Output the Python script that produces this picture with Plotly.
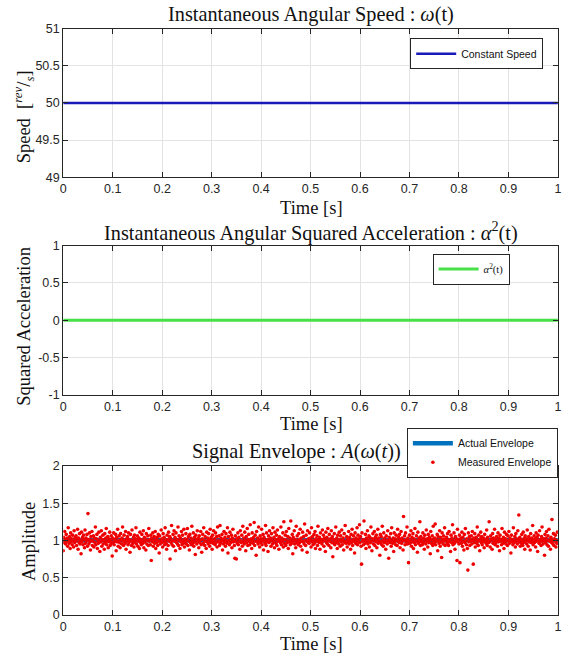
import numpy as np
import plotly.graph_objects as go

# ---------------- data ----------------
time_line = [0.0, 1.0]
speed_const = [50.0, 50.0]
accel_sq = [0.0, 0.0]
envelope_actual = [1.0, 1.0]

# measured envelope, amplitude x100, read/
measured_pct = [
    86,104,97,112,101,95,108,99,103,92,117,100,96,105,89,110,98,102,94,107,100,91,113,97,104,
    99,106,93,101,115,88,103,97,109,95,100,82,111,98,104,94,107,101,90,114,96,103,99,108,92,
    136,101,95,110,98,87,105,100,112,93,99,106,91,103,97,118,94,102,108,89,100,96,111,99,85,
    104,98,113,92,101,107,95,100,88,109,97,103,116,94,99,105,90,102,98,111,93,100,106,96,79,
    103,97,110,94,101,99,108,86,104,98,115,92,100,106,97,90,109,101,95,103,118,99,93,107,100,
    96,112,88,102,99,105,94,110,97,101,84,108,99,93,114,100,96,104,91,107,98,102,117,95,100,
    106,92,99,103,89,111,97,101,94,108,100,96,113,90,104,98,102,87,109,95,100,106,93,116,99,
    101,94,107,73,103,98,110,92,100,105,96,112,89,101,97,104,93,108,99,83,106,95,100,114,97,
    102,91,109,98,104,94,117,100,96,88,107,101,93,111,99,105,75,103,97,120,94,100,108,92,113,
    99,104,86,110,97,101,95,118,93,106,100,89,103,98,112,94,107,100,96,115,91,102,98,109,95,
    101,116,93,105,99,87,108,97,103,94,119,100,96,110,92,104,98,81,107,101,95,113,99,103,90,
    106,97,100,112,94,84,102,108,96,117,100,93,105,99,89,111,98,103,95,109,101,92,115,97,104,
    100,88,107,96,113,99,102,94,110,97,105,91,118,100,98,106,93,120,96,103,99,108,87,101,95,
    112,98,104,92,109,100,96,117,83,105,99,94,111,101,97,107,90,103,115,98,100,93,76,106,99,
    75,102,96,110,94,104,99,88,113,100,97,107,92,119,98,103,95,111,100,86,105,97,116,93,101,
    108,99,94,121,97,102,89,110,100,96,104,124,93,107,99,80,112,98,103,95,118,100,91,106,97,
    102,115,94,99,108,87,104,100,96,120,93,110,98,101,85,106,97,113,99,103,92,109,100,95,117,
    98,104,90,111,101,96,107,93,114,99,102,88,105,100,97,118,94,103,99,110,91,125,96,101,107,
    93,112,100,97,105,89,116,98,103,94,126,100,96,108,82,104,99,113,95,101,90,119,97,106,100,
    94,109,101,97,115,92,103,99,87,111,98,105,95,122,100,93,107,99,84,113,97,102,96,110,100,
    103,91,117,98,105,94,100,108,96,112,89,102,99,106,93,119,100,97,104,88,110,98,101,95,114,
    99,107,92,103,100,85,111,97,104,95,116,100,93,108,99,102,90,113,97,105,78,101,96,109,94,
    100,118,97,103,89,107,99,95,111,101,92,106,98,114,94,100,103,87,109,97,120,99,96,105,91,
    102,98,112,95,104,100,88,108,97,115,93,101,106,99,83,110,96,103,100,117,94,107,98,102,121,
    97,105,92,68,110,99,101,94,126,100,96,108,89,103,98,113,95,100,106,91,104,97,118,99,86,
    102,109,95,100,112,93,104,98,107,90,101,115,96,103,99,80,108,97,105,94,119,100,92,110,97,
    103,98,88,106,100,95,113,99,76,104,101,97,109,92,117,100,96,103,85,110,98,102,94,107,100,
    93,115,99,104,97,108,90,101,112,96,103,99,87,132,100,106,94,110,98,101,118,95,103,70,99,
    107,96,100,113,92,104,98,109,89,102,97,116,94,100,106,99,84,111,96,103,100,125,93,105,98,
    101,94,110,97,103,88,107,100,95,114,99,102,91,108,97,104,100,82,112,96,101,106,93,119,99,
    97,103,122,94,101,99,108,86,105,100,96,113,92,104,98,77,110,101,95,106,99,117,93,102,100,
    104,96,109,100,93,112,98,101,85,107,97,103,121,94,100,110,96,88,105,99,102,73,115,98,101,
    95,107,70,100,103,96,111,92,104,99,87,108,97,116,100,94,102,89,60,110,98,105,93,101,99,
    106,95,112,100,68,103,97,109,91,101,104,96,118,99,93,107,100,86,102,111,97,105,94,100,98,
    103,90,108,99,101,96,114,93,104,100,97,125,98,91,106,100,102,88,109,96,103,99,115,94,101,
    97,105,100,92,110,98,103,86,107,99,101,94,116,100,96,104,89,111,98,102,95,108,100,93,106,
    99,112,96,103,100,83,107,98,101,94,117,100,97,105,91,109,99,102,95,113,100,134,98,104,92,
    101,96,108,100,93,111,97,103,88,106,99,102,95,114,100,92,105,98,101,87,109,97,103,99,120,
    94,100,106,97,102,91,110,99,104,85,107,100,96,113,98,101,93,105,118,99,95,102,100,80,108,
    97,103,112,94,100,106,92,115,99,101,88,104,97,128,100,95,109,93,102,99,107,91,100,96,111,
]
measured = [v / 100 for v in measured_pct]
t_meas = np.linspace(0, 1, len(measured), endpoint=False)

x_ticks = [0, 0.1, 0.2, 0.3, 0.4, 0.5, 0.6, 0.7, 0.8, 0.9, 1]
y1_ticks = [49, 49.5, 50, 50.5, 51]
y2_ticks = [-1, -0.5, 0, 0.5, 1]
y3_ticks = [0, 0.5, 1, 1.5, 2]

# ---------------- figure ----------------
W, H = 563, 655
SERIF = "Liberation Serif, Times New Roman, serif"
SANS = "Liberation Sans, Arial, sans-serif"
AX = "#262626"
GRID = "#e3e3e3"

x_dom = [61 / W, 0.998]
def ydom(top, bot):
    return [1 - bot / H, 1 - top / H]

fig = go.Figure()

fig.add_trace(go.Scatter(x=time_line, y=speed_const, mode="lines",
                         line=dict(color="#1a1ab8", width=2.5), showlegend=True,
                         name="Constant Speed", xaxis="x", yaxis="y", legend="legend"))
fig.add_trace(go.Scatter(x=time_line, y=accel_sq, mode="lines",
                         line=dict(color="#48e048", width=3), showlegend=True,
                         name="<span style='font-family:Liberation Serif'><i>α</i><sup>2</sup>(t)</span>",
                         xaxis="x2", yaxis="y2", legend="legend2"))
fig.add_trace(go.Scatter(x=time_line, y=envelope_actual, mode="lines",
                         line=dict(color="#0072BD", width=4.5), showlegend=True,
                         name="Actual Envelope", xaxis="x3", yaxis="y3", legend="legend3"))
fig.add_trace(go.Scatter(x=t_meas, y=measured, mode="markers",
                         marker=dict(color="#ee0000", size=3.6, line=dict(width=0)),
                         showlegend=True,
                         name="Measured Envelope", xaxis="x3", yaxis="y3", legend="legend3"))

def xax(anchor):
    return dict(domain=x_dom, range=[0, 1], tickvals=x_ticks,
                ticktext=[f"{v:g}" for v in x_ticks], anchor=anchor,
                showline=True, linecolor=AX, linewidth=1, mirror="ticks",
                ticks="inside", ticklen=5, tickcolor=AX,
                showgrid=True, gridcolor=GRID, gridwidth=1, zeroline=False,
                ticklabeloverflow="allow",
                tickfont=dict(family=SANS, size=12.5, color=AX))

def yax(anchor, dom, rng, tv):
    return dict(domain=dom, range=rng, tickvals=tv,
                ticktext=[f"{v:g}" for v in tv], anchor=anchor,
                showline=True, linecolor=AX, linewidth=1, mirror="ticks",
                ticks="inside", ticklen=5, tickcolor=AX,
                showgrid=True, gridcolor=GRID, gridwidth=1, zeroline=False,
                tickfont=dict(family=SANS, size=12.5, color=AX))

leg_common = dict(bgcolor="white", bordercolor=AX, borderwidth=1,
                  font=dict(family=SANS, size=10.5, color="#111"),
                  xanchor="right", yanchor="top", itemwidth=40,
                  tracegroupgap=0, visible=True)

fig.update_layout(
    width=W, height=H, showlegend=True,
    paper_bgcolor="white", plot_bgcolor="white",
    margin=dict(l=0, r=0, t=0, b=0),
    xaxis=xax("y"), yaxis=yax("x", ydom(22, 174), [49, 51], y1_ticks),
    xaxis2=xax("y2"), yaxis2=yax("x2", ydom(244, 396), [-1, 1], y2_ticks),
    xaxis3=xax("y3"), yaxis3=yax("x3", ydom(469, 621), [0, 2], y3_ticks),
    legend=dict(x=547 / W, y=1 - 32 / H, **leg_common),
    legend2=dict(x=513 / W, y=1 - 252 / H, **leg_common),
    legend3=dict(x=0.998, y=1 - 430 / H, **leg_common),
)

def ann(text, xpx, ypx, size=18.5, angle=0):
    fig.add_annotation(text=text, x=xpx / W, y=1 - ypx / H, xref="paper", yref="paper",
                       showarrow=False, textangle=angle, xanchor="center", yanchor="middle",
                       font=dict(family=SERIF, size=size, color="#111"))

TITLE = 20.3
# subplot titles
ann("Instantaneous Angular Speed : <i>ω</i>(t)", 312, 8, size=TITLE)
ann("Instantaneous Angular Squared Acceleration : <i>α</i><sup>2</sup>(t)", 312, 229, size=TITLE)
ann("Signal Envelope : <i>A</i>(<i>ω</i>(<i>t</i>))", 297, 454, size=TITLE)
# x-axis titles
ann("Time [s]", 312, 205)
ann("Time [s]", 312, 426)
ann("Time [s]", 312, 651)
# y-axis titles
ann("Speed  [<sup><i>rev</i></sup>/<sub><i>s</i></sub>]", 21, 112, angle=-90)
ann("Squared Acceleration", 21, 326, angle=-90)
ann("Amplitude", 27, 546, angle=-90)

fig.write_html(
    "out.html",
    config={"displayModeBar": False},
    post_script="document.body.style.margin='0';document.body.style.padding='0';"
                "document.body.style.overflow='hidden';",
)
